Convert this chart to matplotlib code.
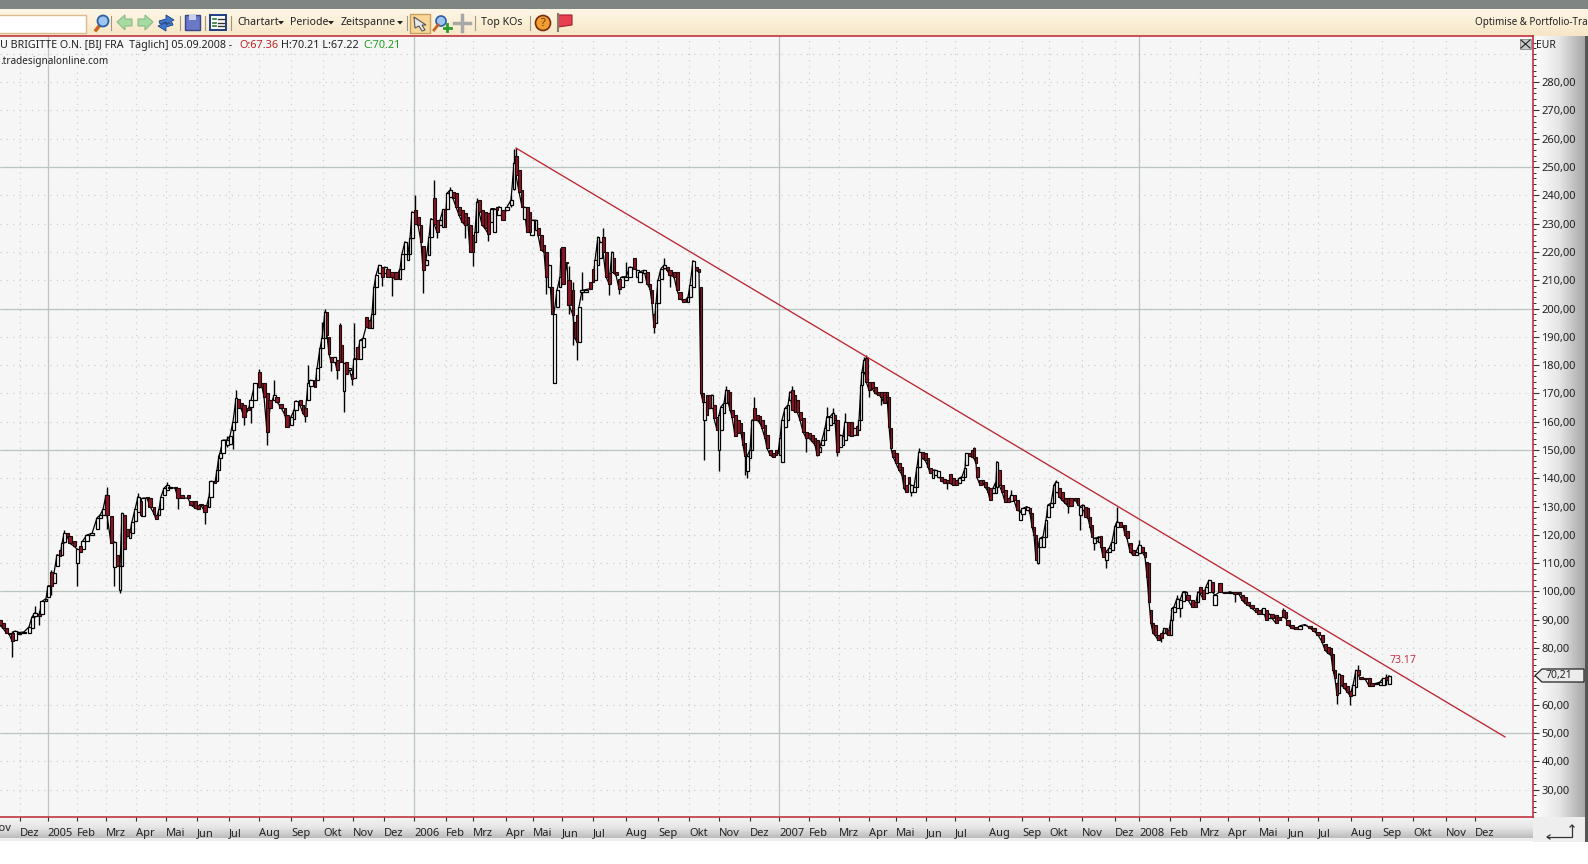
#!/usr/bin/env python3
"""Trading terminal screenshot: daily candles with falling trendline"""
import numpy as np
import matplotlib
matplotlib.use('Agg')
import matplotlib.pyplot as plt
from matplotlib.patches import Rectangle, Polygon, Circle

W, H = 1588, 864
plt.rcParams['font.family'] = ['Noto Sans', 'DejaVu Sans']

# chart x axis runs in calendar days, day 0 is about 15 Nov 2004
month_days = [20, 47.5, 77, 106, 136, 166, 197, 229, 259, 291, 323, 353, 384,
              414, 446, 473, 506, 533, 562, 593, 626, 658, 689, 719, 750,
              779, 809, 839, 869, 896, 926, 955, 989, 1022, 1049, 1082, 1115,
              1139, 1170, 1200, 1228, 1259, 1288, 1318, 1351, 1382, 1413, 1446, 1475]
month_labels = ['Dez', '2005', 'Feb', 'Mrz', 'Apr', 'Mai', 'Jun', 'Jul', 'Aug', 'Sep', 'Okt', 'Nov', 'Dez',
                '2006', 'Feb', 'Mrz', 'Apr', 'Mai', 'Jun', 'Jul', 'Aug', 'Sep', 'Okt', 'Nov', 'Dez',
                '2007', 'Feb', 'Mrz', 'Apr', 'Mai', 'Jun', 'Jul', 'Aug', 'Sep', 'Okt', 'Nov', 'Dez',
                '2008', 'Feb', 'Mrz', 'Apr', 'Mai', 'Jun', 'Jul', 'Aug', 'Sep', 'Okt', 'Nov', 'Dez']
year_days = [47.5, 414, 779, 1139]
price_ticks = [30, 40, 50, 60, 70, 80, 90, 100, 110, 120, 130, 140, 150, 160, 170, 180, 190,
               200, 210, 220, 230, 240, 250, 260, 270, 280]
solid_prices = [50, 100, 150, 200, 250]

candle_days = [
    0, 3, 6, 9, 12, 15, 19, 24, 29, 32,
    35, 39, 42, 46, 48, 51, 54, 57, 60, 62,
    64, 67, 70, 74, 77, 80, 83, 87, 92, 97,
    100, 103, 106, 107, 111, 114, 117, 120, 122, 124,
    127, 130, 132, 135, 138, 141, 143, 147, 150, 154,
    156, 159, 161, 164, 167, 170, 175, 178, 182, 188,
    191, 195, 198, 201, 205, 209, 211, 215, 217, 219,
    220, 223, 227, 230, 233, 236, 238, 241, 244, 248, 251,
    255, 259, 262, 264, 267, 270, 274, 277, 281, 285,
    287, 291, 294, 296, 300, 303, 305, 308, 311, 315,
    317, 320, 322, 325, 327, 329, 331, 334, 337, 340,
    342, 344, 346, 349, 352, 354, 357, 360, 363, 366,
    369, 372, 374, 376, 379, 382, 385, 388, 392, 396,
    400, 402, 405, 408, 410, 412, 415, 418, 421, 423,
    426, 429, 431, 434, 437, 440, 443, 445, 447, 450,
    453, 456, 459, 462, 465, 468, 470, 473, 475, 477,
    479, 482, 485, 488, 491, 494, 497, 499, 503, 507,
    511, 514, 516, 519, 522, 524, 527, 530, 532, 536,
    538, 541, 544, 546, 549, 552, 554, 557, 560, 561,
    563, 567, 569, 573, 575, 577, 579, 582, 586, 590,
    593, 595, 598, 600, 603, 606, 609, 612, 614, 616,
    619, 622, 626, 630, 634, 637, 640, 644, 647, 650,
    652, 654, 656, 658, 661, 664, 667, 670, 674, 677,
    680, 684, 688, 690, 693, 696, 699, 701, 703, 704,
    707, 709, 712, 714, 717, 719, 721, 724, 726, 728,
    730, 732, 735, 738, 741, 743, 745, 747, 750, 752,
    754, 757, 760, 762, 765, 767, 770, 773, 776, 778,
    780, 782, 785, 788, 790, 792, 795, 797, 800, 803,
    806, 809, 812, 815, 817, 820, 822, 825, 827, 830,
    833, 835, 837, 840, 843, 845, 848, 851, 854, 857,
    859, 861, 862, 864, 866, 869, 872, 875, 878, 881,
    884, 887, 889, 891, 893, 896, 899, 902, 904, 906,
    909, 911, 914, 917, 919, 922, 925, 928, 930, 933,
    935, 938, 941, 944, 947, 950, 953, 956, 959, 962,
    965, 966, 969, 972, 974, 976, 977, 980, 983, 985,
    988, 990, 993, 996, 997, 999, 1002, 1005, 1008, 1011,
    1014, 1017, 1020, 1023, 1027, 1030, 1032, 1034, 1036, 1038,
    1040, 1043, 1046, 1048, 1051, 1054, 1056, 1059, 1062, 1065,
    1068, 1071, 1075, 1078, 1080, 1083, 1085, 1088, 1090, 1092,
    1094, 1097, 1099, 1101, 1103, 1106, 1109, 1112, 1115, 1117,
    1120, 1123, 1125, 1127, 1130, 1133, 1136, 1139, 1142, 1145,
    1147, 1149, 1151, 1153, 1155, 1158, 1161, 1164, 1166, 1168,
    1171, 1172, 1174, 1177, 1180, 1183, 1186, 1188, 1192, 1195,
    1198, 1200, 1203, 1206, 1209, 1212, 1215, 1220, 1225, 1230,
    1235, 1239, 1242, 1245, 1248, 1252, 1256, 1259, 1263, 1266,
    1269, 1272, 1276, 1279, 1283, 1286, 1288, 1292, 1296, 1300,
    1305, 1310, 1314, 1318, 1322, 1325, 1328, 1331, 1333, 1335,
    1337, 1339, 1341, 1344, 1347, 1350, 1353, 1356, 1358, 1361,
    1365, 1369, 1372, 1376, 1380, 1383, 1386, 1389,
]
opens = [
    90, 89, 87, 85.5, 85.5, 83, 85, 85.5, 85.5, 87,
    91.5, 92, 92, 96.5, 98, 107, 103, 109, 114.5, 113,
    117.5, 120.5, 119.5, 118, 110, 116, 115, 118, 120, 122,
    126, 127, 129, 134, 126.5, 108.7, 113, 100.5, 109, 127,
    122, 119, 120.5, 125, 128, 132, 126.5, 133.5, 133, 130,
    127, 127, 129, 134, 136, 136.5, 137, 136.5, 134, 134,
    132, 132, 130.5, 131, 130.5, 130, 133.5, 139, 139, 143,
    147, 148.8, 151.7, 152, 157, 160, 168, 166.5, 165.8, 165, 165.3,
    167.6, 177.6, 173.5, 173.5, 170, 167.6, 167.6, 168.8, 166.4, 164.7,
    162.3, 158.8, 161, 164, 167.6, 165.8, 164.7, 167.6, 172.7, 174.7,
    174.7, 179.4, 185.9, 189.4, 198.8, 190, 183, 181.2, 181.8, 194,
    187, 171, 181.2, 178.2, 177, 175.3, 186.5, 182.3, 186.5, 197,
    195.9, 193, 198.2, 207.7, 212.4, 214.7, 212.4, 214.1, 213, 213,
    210.6, 214.1, 219.4, 217, 219.4, 224.8, 234.8, 232.4, 229.5, 222,
    215.3, 218.9, 225.3, 238.9, 231.2, 229.5, 228.9, 235.3, 235.3, 239.5,
    241, 240.7, 236, 234.8, 233.6, 232.4, 229.5, 225.9, 223.6, 227,
    238.3, 234.8, 234.2, 233.6, 230.6, 227, 235.9, 233, 234.8, 234.9,
    236.5, 242.4, 254, 248.9, 241.8, 231.8, 236, 234.2, 225.9, 227.7,
    228.3, 225.9, 222.4, 220, 207.7, 207.7, 173.5, 200.6, 207.7, 218.2,
    221.8, 216.5, 210, 206.5, 195.3, 197.7, 188.2, 205.9, 205.8, 209.4,
    214.1, 210, 215.3, 218, 225.3, 220, 212.4, 213, 217.7, 213,
    210.6, 207.7, 210, 211.2, 217.7, 211.2, 209.4, 212.4, 213, 208.8,
    206.5, 198.2, 194.7, 201.8, 210.6, 214.3, 214.7, 213.5, 213, 213,
    205.9, 203.5, 202.4, 204.1, 207.7, 214.7, 214, 207.7, 170, 160.6,
    169.5, 169.5, 164.7, 165.9, 161.8, 150, 157, 163, 166.5, 171.2,
    170.6, 164.2, 162.4, 160.6, 159.4, 156.5, 152.4, 142.4, 147, 150,
    164.7, 162.4, 162, 160.6, 158.9, 155.3, 150, 148.8, 150, 149,
    148.3, 145.9, 158.3, 160.6, 167.7, 171.2, 169.5, 167.7, 163.6, 161.2,
    156.5, 155.9, 155.3, 154.2, 153.6, 149.4, 151.6, 153.6, 157.2, 158.9,
    159.5, 162.4, 160.6, 151.2, 151.8, 153.6, 160, 160, 155.3, 158.5,
    157, 160.6, 173, 177.7, 182.4, 174.2, 174.2, 172.4, 170.6, 170.6,
    170.6, 170.6, 168.9, 157.7, 150, 148.8, 145.3, 144.1, 141, 137.6,
    140.6, 135.3, 135.3, 137, 144, 149.4, 148.8, 147, 143.5, 140,
    141.2, 140.6, 140.6, 139.6, 139.4, 141.5, 140, 139.4, 138.2, 139.4,
    140.3, 144.7, 149, 150, 150.6, 147.6, 144.1, 139.4, 139.4, 138.8,
    137, 136.5, 134.7, 134.9, 137, 142.9, 137.6, 135.9, 132.9, 132.1,
    134, 132.3, 125.3, 127.4, 128.8, 129.4, 127.6, 122.9, 120, 110.2,
    115.8, 115.8, 119.4, 126.4, 130, 131.1, 135.3, 136.5, 135.3, 132.9,
    132.9, 132.9, 133, 132.9, 127, 128.8, 129.7, 129.4, 126.4, 123.5,
    117, 118, 117.6, 119.6, 115.8, 111.1, 114, 114.6, 117, 122.9,
    124.7, 123.5, 123.5, 121.2, 117, 114.7, 113, 113.5, 115.8, 114,
    110.5, 109.9, 93.4, 88.7, 88.1, 84.6, 85.2, 85.2, 87, 86.4,
    84.6, 89.9, 92.8, 94, 94, 96.7, 98.8, 98.7, 97, 96.4,
    96.4, 101.7, 100.5, 99.3, 99.9, 103.4, 95.2, 102.9, 99.9, 99.3,
    99.9, 99.7, 98.7, 98.1, 96.4, 95.2, 94, 93.4, 92.2, 93.4,
    90.5, 92.2, 91.7, 91, 93.4, 92.8, 89.9, 88.1, 87.5, 86.9,
    88.1, 87.9, 87.2, 85.8, 84.6, 81.6, 80.5, 79.9, 77.9, 72.2,
    67.5, 64, 70.4, 67.5, 66.6, 65, 63.4, 66.3, 72.4, 69.9,
    69.3, 69.3, 67.5, 67.3, 67, 67, 69.9, 67.22,
]
closes = [
    88, 87, 85.5, 85, 82.5, 86, 85.5, 85.7, 87.5, 91,
    92.5, 91.5, 96.5, 97.5, 102, 102, 106.5, 113, 112.5, 117,
    120.5, 119.5, 117, 116, 115, 114, 118, 120, 120.5, 126,
    127, 129, 134, 127, 117, 117.5, 109, 109, 127.7, 115,
    119.5, 121, 124.7, 129, 133.5, 127, 133, 133, 130, 127.5,
    125.5, 129, 133.5, 136.5, 137.5, 136.8, 136.5, 133, 133, 133,
    130.5, 129.5, 129, 130.5, 128, 133.5, 139, 138.5, 143, 148,
    149, 153.5, 153.5, 155, 160, 168.2, 165, 164.7, 161.7, 164, 167.6,
    173.5, 172.3, 172.3, 168.8, 156.4, 164.7, 169.4, 167, 165, 162.3,
    158.2, 161.7, 164, 167.4, 165.8, 162.9, 162, 173.5, 174.7, 172.3,
    178.8, 185.9, 189.4, 198.8, 190.6, 184, 181.2, 182.7, 178.2, 181.2,
    181.2, 180.6, 177, 178.8, 175, 182.3, 182.3, 188.8, 189.4, 193.5,
    193, 198.2, 207.7, 211.8, 215.3, 211.2, 214.7, 211.2, 211, 210.6,
    214.1, 219.4, 223.6, 219.4, 224.8, 234.2, 230, 229.5, 223.6, 213.5,
    217, 225.3, 231.8, 230, 227, 231.2, 235, 228.9, 240.7, 241.8,
    238.9, 236, 233, 230.6, 229.5, 230, 220, 220, 227, 237.7,
    234.2, 229.5, 228.3, 226.5, 235.3, 235.3, 234.8, 236, 231.2, 235.9,
    238.3, 251.3, 247.1, 241.2, 236, 236, 227.1, 227.1, 231.2, 231.2,
    226, 220.6, 220, 211.2, 215.3, 198.2, 198.2, 206.5, 211, 221.2,
    208.8, 216, 201.2, 197.7, 189.4, 188.2, 200.6, 206.4, 206.7, 207,
    209.4, 217, 225.3, 223.6, 220, 211.2, 208.8, 220, 212.4, 211.8,
    207, 211.2, 211.2, 214.7, 214.1, 213.5, 213, 213.5, 208.8, 207,
    201.8, 193.5, 201.8, 210, 214.1, 215.3, 213.5, 211.8, 211.2, 206.5,
    203.5, 202.4, 204.1, 208.2, 216.9, 213.5, 212.8, 170, 167, 167,
    162.4, 164.7, 169.5, 161.2, 157, 162.4, 165.3, 166.5, 171.2, 167,
    164.2, 161.8, 155, 155.9, 156.2, 151.8, 147.7, 147.7, 150, 160.6,
    160.6, 160.6, 159.5, 157.7, 154.2, 150.6, 148.3, 147.4, 148.3, 148.8,
    154.2, 160.6, 164.7, 165.9, 170.6, 164.2, 163.6, 163.6, 160.6, 156.5,
    154.2, 154.2, 153, 151.8, 148.3, 151.2, 153.6, 157.7, 161.8, 161.8,
    163, 160.6, 149.4, 155.3, 154.8, 160, 155.3, 154.8, 157.7, 155.3,
    160.6, 173, 177.7, 181.8, 174.2, 171.2, 171.8, 170, 169.5, 168.9,
    166.5, 168.9, 158.3, 150.6, 147.6, 145.3, 142.9, 141.2, 136.5, 135.3,
    138.2, 137.6, 137, 144, 149.4, 147, 146.5, 144.1, 141.8, 142.9,
    142.9, 142.4, 139.2, 138.5, 138.2, 138.2, 137.6, 137.6, 140, 140.6,
    143.5, 148.8, 147.9, 147.6, 147, 145.3, 140.3, 137.6, 138.2, 137,
    135.3, 132.3, 136.5, 138.8, 145.9, 137.6, 135.3, 131.7, 131.7, 134,
    132.3, 128.8, 128.2, 129.4, 130, 127.6, 122.9, 120, 111.1, 115.8,
    118.8, 119.4, 125.3, 130.6, 131.2, 137.6, 138.8, 133.5, 132.3, 131.2,
    130.2, 130.2, 132.5, 130.6, 130, 130.6, 126.4, 125.9, 122.9, 119.4,
    118.8, 119, 119.4, 115.8, 112.3, 114, 115.2, 117.6, 123, 124.7,
    122.9, 123.2, 120, 118.8, 114, 112.9, 114, 116.4, 114, 112.3,
    105.2, 96.4, 88.7, 85.2, 84.6, 82.8, 83.4, 87, 85.2, 84.6,
    89.9, 94, 94.6, 97.5, 97, 99.9, 99.9, 97, 94.6, 94.4,
    99.9, 99.3, 97.5, 101.7, 104, 99.9, 98.7, 99.9, 99.3, 99.9,
    99.1, 99, 97, 95.8, 95.2, 94, 92.8, 92.2, 94, 89.9,
    92.2, 90.5, 88.7, 90, 91, 90.5, 88.1, 87, 86.6, 87.9,
    88.3, 87, 86, 84.6, 82.2, 79.3, 78.1, 77.5, 72.2, 69.3,
    63.4, 71, 66.9, 66, 64.6, 63.2, 66.9, 72.2, 70.4, 68.9,
    69.1, 66.6, 66.6, 67.5, 68, 69.3, 68.7, 70.21,
]

# candles that show a visible wick
wick_days = [12, 35, 39, 51, 64, 77, 107, 114, 120, 138, 167, 178, 205, 227, 233, 236, 244, 251,
             259, 267, 274, 305, 308, 322, 325, 331, 337, 340, 344, 352, 354, 382, 392, 415, 423,
             434, 437, 450, 465, 473, 477, 488, 511, 514, 516, 546, 552, 554, 569, 573, 577, 582,
             603, 609, 619, 626, 654, 664, 670, 704, 719, 726, 745, 747, 754, 792, 806, 817, 827,
             833, 837, 845, 864, 866, 869, 881, 911, 919, 947, 974, 1011, 1038, 1056, 1068, 1080,
             1094, 1106, 1117, 1139, 1161, 1177, 1180, 1220, 1235, 1283, 1337, 1350, 1358, 1386, 1389]
wick_highs = [86, 95, 93, 107.5, 121.8, 115, 137, 118, 109, 134.7, 138.8, 136.5, 130.5, 154.8, 160, 171.2, 165.8, 167.6,
              178.5, 170, 174.7, 164.7, 180, 195.3, 200, 183, 181.8, 195, 180.6, 177, 194.7, 214.7, 213, 240, 222,
              245.4, 231, 243, 233.6, 225.9, 239, 233.6, 240, 256.5, 256.7, 220, 207.7, 198.2, 215, 209.4, 197.7, 213,
              228.6, 212.4, 210.6, 216.5, 198.2, 218, 213.5, 167, 162.4, 172.6, 152.4, 147.7, 168.9, 172.6, 156.5, 153.6, 165.3,
              164.7, 160.6, 163, 182.8, 183.6, 174.2, 170.6, 137, 150.6, 139.4, 151.2, 135.9, 115.8, 139.4, 132.9, 130,
              118.8, 114, 130, 118.2, 85.2, 98.7, 97, 103.1, 99.9, 94, 67.5, 65, 74, 70.8, 70.21]
wick_lows = [77, 91, 88, 98.8, 117, 102, 122, 102, 99.4, 128, 136, 129, 124, 151, 150.5, 160, 158.8, 159.4,
             172, 151.7, 167.6, 160, 167.6, 185.9, 189.4, 178, 175, 181, 163.5, 173, 175.3, 208, 204.4, 230, 205.6,
             230, 225, 239.5, 224.8, 215, 227, 224, 236, 242, 247, 205, 198, 173.5, 198, 187, 181.7, 203,
             220, 204.7, 205.3, 210, 191.2, 214, 207.7, 146.5, 142.7, 166.5, 141.2, 140, 160.6, 164, 149.4, 148, 157,
             159.5, 147.7, 153.6, 177, 174, 168.9, 165.9, 133.7, 144, 136.1, 147, 132, 109.7, 135, 127.9, 121.7,
             114.7, 108.2, 122.9, 113.5, 82.2, 94, 91, 99.9, 96.4, 91, 60.2, 59.8, 70.4, 67, 67.22]

trend_days = [516, 1505]
trend_values = [256.7, 48.6]
trend_label = '73.17'
last_close = '70,21'

RED_LINE = '#bb2530'
BODY_RED = '#8a1525'
CHART_BG = '#f6f6f6'
SOLID_GRID = '#bcc6c0'
DOT_GRID = '#cfcfcf'
TEXT = '#222222'


def gradient(ax, x0, x1, y0, y1, colors, horizontal=False):
    # small gradient strip in pixel coordinates
    from matplotlib.colors import LinearSegmentedColormap
    cmap = LinearSegmentedColormap.from_list('g', colors)
    data = np.linspace(0, 1, 64).reshape(1, -1) if horizontal else np.linspace(0, 1, 64).reshape(-1, 1)
    ax.imshow(data, extent=(x0, x1, y1, y0), cmap=cmap, aspect='auto', zorder=1)


def draw_toolbar(ui):
    ui.add_patch(Rectangle((0, 0), W, 9, fc='#7f8583', ec='none', zorder=2))
    gradient(ui, 0, W, 9, 36, ['#fdf6e6', '#fbefd6', '#f6e6c6'])
    ui.add_patch(Rectangle((-2, 15), 88, 18, fc='white', ec='#d9b98e', lw=1, zorder=3))

    # magnifier
    ui.plot([96, 100], [30, 25], color='#c8641e', lw=2.5, zorder=3)
    ui.add_patch(Circle((103, 21), 5.5, fc='#9cc6ee', ec='#2b5fa8', lw=1.3, zorder=3))
    # back and forward arrows
    ui.add_patch(Polygon([[117, 22], [125, 15], [125, 19], [132, 19], [132, 26], [125, 26], [125, 30]],
                         fc='#a6dca0', ec='#8cb98c', lw=0.8, zorder=3))
    ui.add_patch(Polygon([[153, 22], [145, 15], [145, 19], [138, 19], [138, 26], [145, 26], [145, 30]],
                         fc='#a6dca0', ec='#8cb98c', lw=0.8, zorder=3))
    # refresh, two arrows
    ui.add_patch(Polygon([[159, 21], [166, 19], [166, 15], [174, 20], [166, 24], [166, 22], [160, 24]],
                         fc='#3f78d0', ec='#1f3f80', lw=0.6, zorder=3))
    ui.add_patch(Polygon([[173, 25], [166, 27], [166, 31], [158, 26], [166, 22.5], [166, 24.5], [172, 22.5]],
                         fc='#3f78d0', ec='#1f3f80', lw=0.6, zorder=3))
    # save and list
    ui.add_patch(Rectangle((185, 15), 15, 15, fc='#6a78c8', ec='#3a4488', lw=1, zorder=3))
    ui.add_patch(Rectangle((189, 15), 7, 5, fc='#c8d0ee', ec='none', zorder=4))
    ui.add_patch(Rectangle((210, 15), 16, 15, fc='white', ec='#1f3f80', lw=1.4, zorder=3))
    for yy in [19, 22.5, 26]:
        ui.plot([213, 216], [yy, yy], color='#2a7a2a', lw=1.2, zorder=4)
        ui.plot([218, 224], [yy, yy], color='#333333', lw=1, zorder=4)

    # cursor button
    ui.add_patch(Rectangle((410, 14), 20, 19, fc='#f8d79a', ec='#c8a060', lw=1, zorder=3))
    ui.add_patch(Polygon([[414, 17], [426, 25], [422, 25], [425, 30], [422, 31], [419, 26], [415, 28]],
                         fc='#e8e8e8', ec='#555555', lw=0.8, zorder=4))
    # zoom plus
    ui.add_patch(Circle((441, 21), 5, fc='#9cc6ee', ec='#2b5fa8', lw=1.2, zorder=3))
    ui.plot([434, 438], [30, 25], color='#c8641e', lw=2, zorder=3)
    ui.plot([447, 447], [24, 31], color='#2a9a2a', lw=2, zorder=4)
    ui.plot([443.5, 450.5], [27.5, 27.5], color='#2a9a2a', lw=2, zorder=4)
    # crosshair
    ui.plot([462, 462], [15, 31], color='#a8a8a8', lw=2.5, zorder=3)
    ui.plot([454, 470], [23, 23], color='#a8a8a8', lw=2.5, zorder=3)
    # help and flag
    ui.add_patch(Circle((543, 23), 7.5, fc='#f0a030', ec='#7a2a10', lw=1.2, zorder=3))
    ui.text(543, 23, '?', color='#7a2a10', fontsize=8, fontweight='bold', ha='center', va='center', zorder=4)
    ui.add_patch(Polygon([[558, 15], [572, 15], [572, 25], [558, 27]], fc='#e84050', ec='#a02030', lw=0.8, zorder=3))
    ui.plot([558, 558], [14, 31], color='#80806a', lw=1.5, zorder=4)

    # separators
    for xx in [111, 180, 205, 231, 407, 475, 530]:
        ui.plot([xx, xx], [16, 30], color='#9a9a8a', lw=0.8, zorder=3)

    for xx, label, tip in [(237, 'Chartart', 281), (290, 'Periode', 331), (341, 'Zeitspanne', 400)]:
        ui.text(xx, 22.5, label, fontsize=7.6, color=TEXT, va='center', zorder=4)
        ui.add_patch(Polygon([[tip - 3, 21], [tip + 3, 21], [tip, 24.5]], fc='#222222', ec='none', zorder=4))
    ui.text(481, 22.5, 'Top KOs', fontsize=7.6, color=TEXT, va='center', zorder=4)
    ui.text(1475, 22.5, 'Optimise & Portfolio-Tra', fontsize=7.1, color=TEXT, va='center', zorder=4)


def draw_frame(ui):
    # right price panel and bottom date strip
    gradient(ui, 1533, 1585, 36, 842, ['#ffffff', '#e6e6e6', '#a8a8a8'], horizontal=True)
    ui.add_patch(Rectangle((1585, 36), 3, 806, fc='#555555', ec='none', zorder=2))
    gradient(ui, 0, 1533, 817, 838, ['#f4f4f4', '#e6e6e6', '#bcbcbc'])
    ui.add_patch(Rectangle((0, 838), 1533, 3, fc='#eeeeee', ec='none', zorder=2))
    ui.add_patch(Rectangle((1533, 817), 52, 25, fc='#eeeeee', ec='none', zorder=2))
    # corner arrow
    ui.plot([1547, 1572, 1572], [837, 837, 825], color='#333333', lw=0.9, zorder=3)
    ui.plot([1550, 1547, 1550], [835, 837, 839], color='#333333', lw=0.9, zorder=3)
    ui.plot([1570, 1572, 1574], [827, 825, 827], color='#333333', lw=0.9, zorder=3)


def draw_chart(ax):
    ax.set_xlim(0, 1533)
    ax.set_ylim(20.3, 296.3)
    ax.set_facecolor(CHART_BG)
    for side in ['top', 'bottom', 'right']:
        ax.spines[side].set_color(RED_LINE)
        ax.spines[side].set_linewidth(1.1)
    ax.spines['left'].set_visible(False)

    # grid
    dots = (0, (1, 4))
    ax.vlines(month_days, 20.3, 296.3, color=DOT_GRID, lw=0.9, linestyles=[dots], zorder=1)
    ax.hlines(price_ticks + [290], 0, 1533, color=DOT_GRID, lw=0.9, linestyles=[dots], zorder=1)
    ax.vlines(year_days, 20.3, 296.3, color=SOLID_GRID, lw=0.9, zorder=1.5)
    ax.hlines(solid_prices, 0, 1533, color=SOLID_GRID, lw=0.9, zorder=1.5)

    # axes labels, the 70 label sits under the last price marker
    ax.yaxis.tick_right()
    ax.set_yticks(price_ticks)
    ax.set_yticklabels(['' if p == 70 else f'{p},00' for p in price_ticks], fontsize=8, color=TEXT)
    ax.set_yticks(np.arange(22, 296, 2), minor=True)
    ax.tick_params(axis='y', which='major', length=4, width=0.8, color='#333333', pad=2)
    ax.tick_params(axis='y', which='minor', length=2, width=0.7, color='#333333')
    ax.set_xticks(month_days)
    ax.set_xticklabels(month_labels, fontsize=8, color=TEXT, ha='left', va='baseline')
    ax.tick_params(axis='x', length=3, width=0.8, color='#333333', pad=11)

    # candles, bodies fill the gap to the next listed candle
    days = np.array(candle_days)
    o = np.array(opens)
    c = np.array(closes)
    up = c >= o
    widths = np.clip(np.append(np.diff(days), 3), 2.6, 4.5)
    ax.plot(days, c, color='black', lw=0.9, zorder=2)
    ax.vlines(wick_days, wick_lows, wick_highs, color='black', lw=1, zorder=2)
    ax.bar(days[up], (c - o)[up], bottom=o[up], width=widths[up], color='white',
           edgecolor='black', linewidth=0.9, zorder=3)
    ax.bar(days[~up], (c - o)[~up], bottom=o[~up], width=widths[~up], color=BODY_RED,
           edgecolor='#1a0a0a', linewidth=0.8, zorder=3)

    # trendline
    ax.plot(trend_days, trend_values, color=RED_LINE, lw=0.95, zorder=4)
    ax.text(1389, 73.6, trend_label, fontsize=7.5, color='#c0344a', va='bottom', zorder=5)


def draw_labels(top):
    # header lines over the chart
    top.text(0, 45.5, 'U BRIGITTE O.N. [BIJ FRA  Täglich] 05.09.2008 - ', fontsize=7.7, color=TEXT, va='center')
    top.text(239, 45.5, 'O:67.36', fontsize=7.8, color='#c02020', va='center')
    top.text(281, 45.5, 'H:70.21 L:67.22', fontsize=7.8, color=TEXT, va='center')
    top.text(363, 45.5, 'C:70.21', fontsize=7.8, color='#20a020', va='center')
    top.text(0, 61.5, '.tradesignalonline.com', fontsize=7.2, color=TEXT, va='center')
    top.text(-9, 831, 'Nov', fontsize=8, color=TEXT, va='baseline', clip_on=True)
    top.text(1536, 45, 'EUR', fontsize=7.5, color=TEXT, va='center')

    # close button
    top.add_patch(Rectangle((1520, 39), 11, 10, fc='#c8c8c8', ec='#888888', lw=0.6))
    top.plot([1521, 1530], [40, 48], color='#222222', lw=0.8)
    top.plot([1521, 1530], [48, 40], color='#222222', lw=0.8)

    # last price marker
    top.add_patch(Polygon([[1535, 675.5], [1542, 669], [1584, 669], [1584, 682], [1542, 682]],
                          fc='#ececec', ec='#222222', lw=0.9))
    top.text(1545, 675.5, last_close, fontsize=7.5, color=TEXT, va='center')


def create_chart():
    fig = plt.figure(figsize=(W / 100, H / 100), dpi=100, facecolor='white')

    ui = fig.add_axes([0, 0, 1, 1], zorder=0)
    ui.set_xlim(0, W)
    ui.set_ylim(H, 0)
    ui.axis('off')
    draw_frame(ui)
    draw_toolbar(ui)
    ui.set_xlim(0, W)
    ui.set_ylim(H, 0)

    ax = fig.add_axes([0, 1 - 817 / H, 1533 / W, (817 - 36) / H], zorder=1)
    draw_chart(ax)

    top = fig.add_axes([0, 0, 1, 1], zorder=2)
    top.set_xlim(0, W)
    top.set_ylim(H, 0)
    top.axis('off')
    top.patch.set_alpha(0)
    draw_labels(top)
    top.set_xlim(0, W)
    top.set_ylim(H, 0)
    return fig


if __name__ == '__main__':
    fig = create_chart()
    fig.savefig('out.png', dpi=100, facecolor='white')
    plt.close(fig)
